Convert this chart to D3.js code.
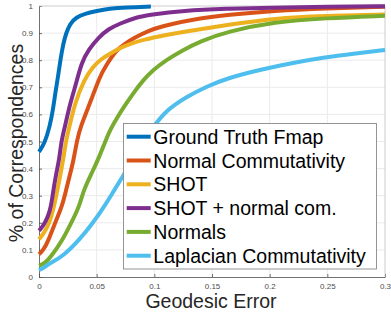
<!DOCTYPE html>
<html>
<head>
<meta charset="utf-8">
<script src="https://cdn.jsdelivr.net/npm/d3@7"></script>
<style>
  body { margin: 0; background: #fff; }
  svg { display: block; font-family: "Liberation Sans", Arial, Helvetica, sans-serif; }
</style>
</head>
<body>
<div class="chart"></div>
<script>
// Data (x = geodesic error, y = fraction of correspondences)
const seriesNames = ['Ground Truth Fmap', 'Normal Commutativity', 'SHOT', 'SHOT + normal com.', 'Normals', 'Laplacian Commutativity'];
const seriesColors = ['#0072BD', '#D95319', '#EDB120', '#7E2F8E', '#77AC30', '#4DBEEE'];

const gtX = [0, 0.0049, 0.0093, 0.0121, 0.0141, 0.0165, 0.0185, 0.021, 0.0234, 0.027, 0.032, 0.0407, 0.05, 0.061, 0.075, 0.097];
const gtY = [0.462, 0.493, 0.555, 0.616, 0.678, 0.739, 0.80, 0.86, 0.899, 0.935, 0.958, 0.973, 0.982, 0.99, 0.995, 0.998];

const normComX = [0, 0.004, 0.0084, 0.013, 0.020, 0.0235, 0.027, 0.030, 0.033, 0.036, 0.0453, 0.0526, 0.0583, 0.067, 0.075, 0.082, 0.095, 0.1107, 0.1395, 0.1626, 0.2045, 0.248, 0.3];
const normComY = [0.084, 0.1, 0.137, 0.19, 0.26, 0.321, 0.38, 0.432, 0.505, 0.555, 0.653, 0.739, 0.782, 0.838, 0.862, 0.881, 0.91, 0.93, 0.955, 0.967, 0.983, 0.991, 0.997];

const shotX = [0, 0.004, 0.009, 0.0125, 0.016, 0.021, 0.0235, 0.025, 0.031, 0.039, 0.0468, 0.054, 0.062, 0.07, 0.08, 0.09, 0.11, 0.125, 0.1626, 0.2045, 0.248, 0.3];
const shotY = [0.139, 0.16, 0.198, 0.25, 0.321, 0.432, 0.505, 0.53, 0.641, 0.727, 0.776, 0.805, 0.825, 0.845, 0.862, 0.875, 0.893, 0.905, 0.93, 0.955, 0.964, 0.969];

const shotNormX = [0, 0.004, 0.008, 0.0104, 0.0125, 0.0148, 0.0175, 0.0195, 0.0225, 0.027, 0.0323, 0.0367, 0.043, 0.052, 0.06, 0.07, 0.084, 0.096, 0.125, 0.163, 0.2, 0.25, 0.3];
const shotNormY = [0.171, 0.19, 0.225, 0.26, 0.321, 0.38, 0.432, 0.505, 0.555, 0.641, 0.715, 0.789, 0.84, 0.885, 0.915, 0.935, 0.958, 0.968, 0.983, 0.99, 0.994, 0.997, 0.999];

const normalsX = [0, 0.005, 0.0104, 0.0205, 0.0277, 0.035, 0.0386, 0.0465, 0.0523, 0.058, 0.0615, 0.068, 0.074, 0.0817, 0.09, 0.099, 0.11, 0.125, 0.14, 0.1626, 0.2045, 0.248, 0.3];
const normalsY = [0.042, 0.05, 0.075, 0.137, 0.198, 0.26, 0.321, 0.39, 0.444, 0.505, 0.542, 0.59, 0.63, 0.678, 0.725, 0.764, 0.80, 0.838, 0.87, 0.905, 0.942, 0.955, 0.964];

const lapX = [0, 0.004, 0.009, 0.0205, 0.035, 0.0465, 0.0566, 0.0653, 0.074, 0.085, 0.099, 0.1107, 0.128, 0.145, 0.1626, 0.193, 0.22, 0.248, 0.275, 0.3];
const lapY = [0.026, 0.033, 0.05, 0.075, 0.137, 0.198, 0.26, 0.321, 0.38, 0.46, 0.555, 0.616, 0.665, 0.702, 0.733, 0.766, 0.79, 0.811, 0.825, 0.838];

const xTicks = [0, 0.05, 0.1, 0.15, 0.2, 0.25, 0.3];
const xTickLabels = ['0', '0.05', '0.1', '0.15', '0.2', '0.25', '0.3'];
const yTicks = [0, 0.1, 0.2, 0.3, 0.4, 0.5, 0.6, 0.7, 0.8, 0.9, 1];
const yTickLabels = ['0', '0.1', '0.2', '0.3', '0.4', '0.5', '0.6', '0.7', '0.8', '0.9', '1'];

// Margin convention
const outerWidth = 391;
const outerHeight = 312;
const margin = { top: 6, right: 6, bottom: 35, left: 39 };
const innerWidth = outerWidth - margin.left - margin.right;
const innerHeight = outerHeight - margin.top - margin.bottom;

const svg = d3.select('.chart')
  .append('svg')
    .attr('width', outerWidth)
    .attr('height', outerHeight);

const chartG = svg.append('g')
  .attr('transform', `translate(${margin.left},${margin.top})`);

const x = d3.scaleLinear().domain([0, 0.3]).range([0, innerWidth]);
const y = d3.scaleLinear().domain([0, 1]).range([innerHeight, 0]);

// grid
chartG.append('g')
  .selectAll('line')
  .data(xTicks.slice(1, -1))
  .enter().append('line')
    .attr('x1', d => x(d)).attr('x2', d => x(d))
    .attr('y1', 0).attr('y2', innerHeight)
    .attr('stroke', '#ebebeb').attr('stroke-width', 1);
chartG.append('g')
  .selectAll('line')
  .data(yTicks.slice(1, -1))
  .enter().append('line')
    .attr('y1', d => y(d)).attr('y2', d => y(d))
    .attr('x1', 0).attr('x2', innerWidth)
    .attr('stroke', '#ebebeb').attr('stroke-width', 1);

// axes (MATLAB style: ticks inside)
const axisColor = '#4d4d4d';
const xAxis = chartG.append('g')
  .attr('transform', `translate(0,${innerHeight})`)
  .call(d3.axisBottom(x).tickValues(xTicks).tickFormat((d, i) => xTickLabels[i]).tickSizeInner(-3).tickSizeOuter(0).tickPadding(6));
const yAxis = chartG.append('g')
  .call(d3.axisLeft(y).tickValues(yTicks).tickFormat((d, i) => yTickLabels[i]).tickSizeInner(-3).tickSizeOuter(0).tickPadding(6));
[xAxis, yAxis].forEach(a => {
  a.select('.domain').attr('stroke', axisColor).attr('stroke-width', 0.8);
  a.selectAll('.tick line').attr('stroke', axisColor).attr('stroke-width', 0.8);
  a.selectAll('.tick text').attr('fill', '#4d4d4d').style('font-size', '8px')
    .style('font-family', '"Liberation Sans", Arial, sans-serif');
});
// top and right box edges
chartG.append('line').attr('x1', 0).attr('x2', innerWidth).attr('y1', 0).attr('y2', 0)
  .attr('stroke', '#bfbfbf').attr('stroke-width', 0.8);
chartG.append('line').attr('x1', innerWidth).attr('x2', innerWidth).attr('y1', 0).attr('y2', innerHeight)
  .attr('stroke', '#bfbfbf').attr('stroke-width', 0.8);

// curves
const seriesX = [gtX, normComX, shotX, shotNormX, normalsX, lapX];
const seriesY = [gtY, normComY, shotY, shotNormY, normalsY, lapY];
const series = seriesNames.map((name, i) => ({
  name: name,
  color: seriesColors[i],
  points: seriesX[i].map((v, j) => [v, seriesY[i][j]])
}));

const line = d3.line()
  .x(d => x(d[0]))
  .y(d => y(d[1]))
  .curve(d3.curveBasis);

chartG.selectAll('.curve')
  .data(series)
  .enter().append('path')
    .attr('class', 'curve')
    .attr('d', d => line(d.points))
    .attr('fill', 'none')
    .attr('stroke', d => d.color)
    .attr('stroke-width', 4)
    .attr('stroke-linejoin', 'round');

// legend
const legendG = svg.append('g').attr('transform', 'translate(123.5,123.5)');
legendG.append('rect')
  .attr('width', 253).attr('height', 145.5)
  .attr('fill', '#fff').attr('stroke', '#7a7a7a').attr('stroke-width', 0.8);
const rowH = 23.8;
const entry = legendG.selectAll('.entry')
  .data(series)
  .enter().append('g')
    .attr('class', 'entry')
    .attr('transform', (d, i) => `translate(0,${13.2 + i * rowH})`);
entry.append('line')
  .attr('x1', 3.2).attr('x2', 27.2)
  .attr('stroke', d => d.color).attr('stroke-width', 4);
entry.append('text')
  .attr('x', 29.8).attr('dy', '0.36em')
  .style('font-size', '19.5px').attr('fill', '#000')
  .text(d => d.name);

// axis titles
svg.append('text')
  .attr('x', 211).attr('y', 308)
  .attr('text-anchor', 'middle')
  .style('font-size', '19.5px').attr('fill', '#262626')
  .text('Geodesic Error');
svg.append('text')
  .attr('transform', 'translate(23,143) rotate(-90)')
  .attr('text-anchor', 'middle')
  .style('font-size', '19.5px').attr('fill', '#262626')
  .text('% of Correspondences');
</script>
</body>
</html>
